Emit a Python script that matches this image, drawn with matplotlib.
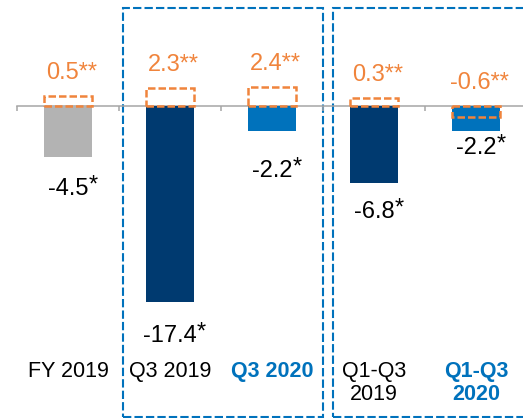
import matplotlib
matplotlib.use('Agg')
import matplotlib.pyplot as plt
import matplotlib.transforms as mtransforms
from matplotlib.patches import Rectangle
from matplotlib.font_manager import FontProperties
import numpy as np

# ---------------- data ----------------
categories = ['FY 2019', 'Q3 2019', 'Q3 2020', 'Q1-Q3\n2019', 'Q1-Q3\n2020']
values = [-4.5, -17.4, -2.2, -6.8, -2.2]
orange_values = [0.5, 2.3, 2.4, 0.3, -0.6]
value_labels = ['-4.5', '-17.4', '-2.2', '-6.8', '-2.2']
orange_labels = ['0.5**', '2.3**', '2.4**', '0.3**', '-0.6**']

# ---------------- style ----------------
bar_colors = ['#b3b3b3', '#003a70', '#0072bc', '#003a70', '#0072bc']
cat_colors = ['#000000', '#000000', '#0072bc', '#000000', '#0072bc']
cat_weights = ['normal', 'normal', 'bold', 'normal', 'bold']
value_label_offsets_px = [38, 40, 46, 35, 23]
ORANGE = '#f0843c'
BLUE = '#0072bc'
GRAY = '#a6a6a6'

plt.rcParams['font.family'] = ['Liberation Sans', 'DejaVu Sans']

W, H = 523, 418
fig = plt.figure(figsize=(W / 100, H / 100), dpi=100)
left_px = 17
ax = fig.add_axes([left_px / W, 0, 1 - left_px / W, 1])
ax.patch.set_alpha(0)

cat_px = 102.0
px_per_unit = 11.25
zero_from_top = 106
x = np.arange(len(categories))
ax.set_xlim(-0.5, -0.5 + (W - left_px) / cat_px)
ax.set_ylim(-(H - zero_from_top) / px_per_unit, zero_from_top / px_per_unit)

ax.bar(x, values, width=0.48, color=bar_colors, zorder=2)

for s in ['top', 'right', 'left']:
    ax.spines[s].set_visible(False)
ax.spines['bottom'].set_position(('data', 0))
ax.spines['bottom'].set_color(GRAY)
ax.spines['bottom'].set_linewidth(1.1)
ax.spines['bottom'].set_zorder(1)
ax.set_xticks(np.arange(len(categories)) - 0.5)
ax.tick_params(axis='x', direction='out', length=3.6, width=1.1, color=GRAY,
               labelbottom=False)
ax.set_yticks([])

px2pt = 72 / 100.0
renderer = fig.canvas.get_renderer()
for i, (v, lbl) in enumerate(zip(values, value_labels)):
    t = ax.annotate(lbl, xy=(i, v),
                    xytext=(0, -value_label_offsets_px[i] * px2pt),
                    textcoords='offset points', ha='center', va='baseline',
                    fontsize=17, color='black')
    w_px = t.get_window_extent(renderer).width
    ax.annotate('*', xy=(i, v),
                xytext=(w_px / 2 * px2pt, (-value_label_offsets_px[i] + 3) * px2pt),
                textcoords='offset points', ha='left', va='baseline',
                fontsize=17, color='black')

blend = mtransforms.blended_transform_factory(ax.transData, ax.transAxes)
for i, cat in enumerate(categories):
    ax.text(i, 1 - 361 / H, cat, transform=blend, ha='center', va='top',
            multialignment='center', fontsize=15.5, linespacing=1.15,
            color=cat_colors[i], fontweight=cat_weights[i])

# group frames
ax.add_patch(Rectangle((0.54, 1 - 417 / H), 2.5 - 0.54, (417 - 8) / H,
                       transform=blend, fill=False, edgecolor=BLUE, lw=1.5,
                       ls=(0, (4, 1.5)), clip_on=False, zorder=0))
ax.add_patch(Rectangle((2.6, 1 - 417 / H), 2.6, (417 - 8) / H,
                       transform=blend, fill=False, edgecolor=BLUE, lw=1.5,
                       ls=(0, (4, 1.5)), clip_on=False, zorder=0))

# orange secondary series on a compressed power scale
ax2 = ax.twinx()
ax2.patch.set_alpha(0)
def fwd(v):
    v = np.asarray(v, dtype=float)
    return np.sign(v) * np.abs(v) ** 0.4
def inv(u):
    u = np.asarray(u, dtype=float)
    return np.sign(u) * np.abs(u) ** 2.5
ax2.set_yscale('function', functions=(fwd, inv))
k = 13.15
ax2.set_ylim(float(inv(-(H - zero_from_top) / k)), float(inv(zero_from_top / k)))
for s in ax2.spines.values():
    s.set_visible(False)
ax2.set_yticks([])
ax2.set_yticks([], minor=True)
ax2.bar(x, orange_values, width=0.48, fill=False, edgecolor=ORANGE,
        linewidth=1.8, linestyle=(0, (3, 1.2)), zorder=3)
for i, (v, lbl) in enumerate(zip(orange_values, orange_labels)):
    ax2.annotate(lbl, xy=(i, max(v, 0)),
                 xytext=(3.5 * px2pt, 17 * px2pt), textcoords='offset points',
                 ha='center', va='baseline', fontsize=17, color=ORANGE)

fig.savefig('out.png', dpi=100)
